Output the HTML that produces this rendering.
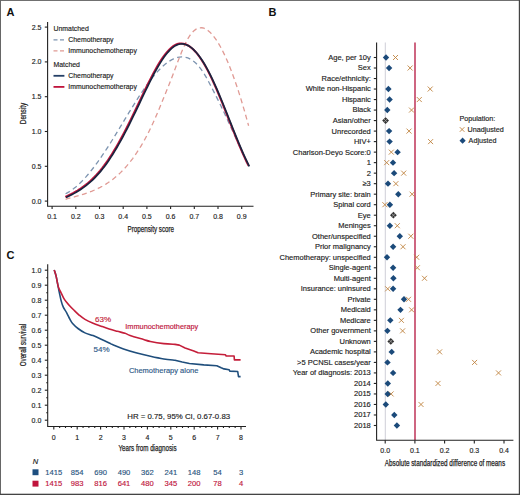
<!DOCTYPE html>
<html><head><meta charset="utf-8"><style>
html,body{margin:0;padding:0;background:#fff;}
svg{display:block;font-family:"Liberation Sans", sans-serif;}
</style></head><body>
<svg width="520" height="495" viewBox="0 0 520 495">
<rect x="0" y="0" width="520" height="495" fill="#fff"/>
<rect x="0" y="0" width="520" height="1" fill="#707070"/>
<rect x="0" y="0" width="1" height="495" fill="#666"/>
<rect x="518.8" y="0" width="1.2" height="495" fill="#444"/>
<rect x="0" y="493.7" width="520" height="1.3" fill="#444"/>
<text x="6.6" y="15.6" font-size="11" font-weight="bold" fill="#111">A</text>
<text x="268.6" y="15.7" font-size="11" font-weight="bold" fill="#111">B</text>
<text x="6.6" y="258.5" font-size="11" font-weight="bold" fill="#111">C</text>
<g stroke="#222" stroke-width="1.1" fill="none">
<path d="M47.6,22 V206.2 H253.5"/>
<path d="M44.8,201.10 H47.6"/>
<path d="M44.8,166.30 H47.6"/>
<path d="M44.8,131.50 H47.6"/>
<path d="M44.8,96.70 H47.6"/>
<path d="M44.8,61.90 H47.6"/>
<path d="M44.8,27.10 H47.6"/>
<path d="M52.10,206.2 V209"/>
<path d="M75.80,206.2 V209"/>
<path d="M99.50,206.2 V209"/>
<path d="M123.20,206.2 V209"/>
<path d="M146.90,206.2 V209"/>
<path d="M170.60,206.2 V209"/>
<path d="M194.30,206.2 V209"/>
<path d="M218.00,206.2 V209"/>
<path d="M241.70,206.2 V209"/>
</g>
<g font-size="7" fill="#222" stroke="#222" stroke-width="0.15" text-anchor="end">
<text x="41.5" y="203.60">0.0</text>
<text x="41.5" y="168.80">0.5</text>
<text x="41.5" y="134.00">1.0</text>
<text x="41.5" y="99.20">1.5</text>
<text x="41.5" y="64.40">2.0</text>
<text x="41.5" y="29.60">2.5</text>
</g>
<g font-size="7" fill="#222" stroke="#222" stroke-width="0.15" text-anchor="middle">
<text x="52.10" y="218.6">0.1</text>
<text x="75.80" y="218.6">0.2</text>
<text x="99.50" y="218.6">0.3</text>
<text x="123.20" y="218.6">0.4</text>
<text x="146.90" y="218.6">0.5</text>
<text x="170.60" y="218.6">0.6</text>
<text x="194.30" y="218.6">0.7</text>
<text x="218.00" y="218.6">0.8</text>
<text x="241.70" y="218.6">0.9</text>
</g>
<text x="150.8" y="231.7" font-size="8.8" fill="#222" stroke="#222" stroke-width="0.25" text-anchor="middle" textLength="46.6" lengthAdjust="spacingAndGlyphs">Propensity score</text>
<text transform="translate(26,113.5) rotate(-90)" font-size="8.8" fill="#222" stroke="#222" stroke-width="0.25" text-anchor="middle" textLength="21.4" lengthAdjust="spacingAndGlyphs">Density</text>
<path d="M65.60,193.71 L67.64,192.65 L69.67,191.44 L71.71,190.08 L73.75,188.58 L75.78,186.94 L77.82,185.17 L79.86,183.28 L81.89,181.26 L83.93,179.12 L85.97,176.88 L88.00,174.52 L90.04,172.07 L92.08,169.51 L94.11,166.87 L96.15,164.14 L98.19,161.32 L100.22,158.43 L102.26,155.47 L104.30,152.44 L106.33,149.35 L108.37,146.20 L110.41,143.00 L112.44,139.75 L114.48,136.47 L116.52,133.14 L118.55,129.80 L120.59,126.43 L122.63,123.06 L124.66,119.68 L126.70,116.31 L128.74,112.95 L130.77,109.62 L132.81,106.32 L134.85,103.05 L136.88,99.83 L138.92,96.66 L140.96,93.56 L142.99,90.53 L145.03,87.57 L147.07,84.70 L149.10,81.93 L151.14,79.26 L153.18,76.69 L155.21,74.25 L157.25,71.93 L159.29,69.74 L161.32,67.70 L163.36,65.81 L165.40,64.07 L167.43,62.51 L169.47,61.11 L171.51,59.90 L173.54,58.88 L175.58,58.06 L177.62,57.45 L179.65,57.07 L181.69,56.92 L183.73,57.01 L185.76,57.36 L187.80,57.97 L189.84,58.86 L191.87,60.04 L193.91,61.51 L195.95,63.29 L197.98,65.39 L200.02,67.81 L202.06,70.58 L204.09,73.69 L206.13,77.14 L208.17,80.83 L210.20,84.69 L212.24,88.64 L214.28,92.61 L216.31,96.60 L218.35,100.66 L220.39,104.80 L222.42,109.02 L224.46,113.33 L226.50,117.70 L228.53,122.12 L230.57,126.58 L232.61,131.07 L234.64,135.57 L236.68,140.07 L238.72,144.55 L240.75,149.01 L242.79,153.43 L244.83,157.79 L246.86,162.09 L248.90,166.31" fill="none" stroke="#7d94b0" stroke-width="1.3" stroke-dasharray="5,3.5"/>
<path d="M65.60,199.30 L67.63,198.73 L69.67,198.16 L71.70,197.60 L73.73,197.03 L75.77,196.46 L77.80,195.88 L79.83,195.28 L81.87,194.66 L83.90,194.01 L85.93,193.34 L87.97,192.63 L90.00,191.88 L92.03,191.09 L94.07,190.24 L96.10,189.35 L98.13,188.39 L100.17,187.37 L102.20,186.28 L104.23,185.12 L106.27,183.88 L108.30,182.56 L110.33,181.15 L112.37,179.65 L114.40,178.06 L116.43,176.36 L118.47,174.55 L120.50,172.63 L122.53,170.60 L124.57,168.45 L126.60,166.17 L128.63,163.76 L130.67,161.21 L132.70,158.53 L134.73,155.70 L136.77,152.72 L138.80,149.59 L140.83,146.30 L142.87,142.84 L144.90,139.22 L146.93,135.43 L148.97,131.45 L151.00,127.29 L153.03,122.95 L155.07,118.43 L157.10,113.75 L159.13,108.95 L161.17,104.05 L163.20,99.09 L165.23,94.09 L167.27,89.08 L169.30,84.04 L171.33,78.87 L173.37,73.53 L175.40,68.11 L177.43,62.70 L179.47,57.41 L181.50,52.32 L183.53,47.53 L185.57,43.13 L187.60,39.21 L189.63,35.87 L191.67,33.13 L193.70,30.97 L195.73,29.38 L197.77,28.33 L199.80,27.80 L201.83,27.77 L203.87,28.21 L205.90,29.11 L207.93,30.44 L209.97,32.17 L212.00,34.29 L214.03,36.78 L216.07,39.61 L218.10,42.77 L220.13,46.25 L222.17,50.04 L224.20,54.15 L226.23,58.56 L228.27,63.27 L230.30,68.27 L232.33,73.57 L234.37,79.15 L236.40,85.01 L238.43,91.14 L240.47,97.55 L242.50,104.22 L244.53,111.14 L246.57,118.32 L248.60,125.75" fill="none" stroke="#e09a94" stroke-width="1.3" stroke-dasharray="5,3.5"/>
<path d="M65.60,197.11 L67.64,196.18 L69.67,195.20 L71.71,194.17 L73.75,193.08 L75.78,191.93 L77.82,190.71 L79.86,189.41 L81.89,188.03 L83.93,186.57 L85.97,185.01 L88.00,183.35 L90.04,181.59 L92.08,179.72 L94.11,177.74 L96.15,175.63 L98.19,173.39 L100.22,171.03 L102.26,168.52 L104.30,165.87 L106.33,163.08 L108.37,160.15 L110.41,157.09 L112.44,153.90 L114.48,150.60 L116.52,147.17 L118.55,143.64 L120.59,140.00 L122.63,136.25 L124.66,132.41 L126.70,128.48 L128.74,124.46 L130.77,120.36 L132.81,116.19 L134.85,111.98 L136.88,107.73 L138.92,103.46 L140.96,99.19 L142.99,94.93 L145.03,90.70 L147.07,86.51 L149.10,82.38 L151.14,78.35 L153.18,74.42 L155.21,70.63 L157.25,67.01 L159.29,63.56 L161.32,60.32 L163.36,57.30 L165.40,54.52 L167.43,52.01 L169.47,49.79 L171.51,47.87 L173.54,46.29 L175.58,45.05 L177.62,44.19 L179.65,43.70 L181.69,43.58 L183.73,43.81 L185.76,44.39 L187.80,45.31 L189.84,46.56 L191.87,48.12 L193.91,50.00 L195.95,52.18 L197.98,54.65 L200.02,57.41 L202.06,60.43 L204.09,63.73 L206.13,67.27 L208.17,71.06 L210.20,75.09 L212.24,79.33 L214.28,83.76 L216.31,88.36 L218.35,93.11 L220.39,97.98 L222.42,102.94 L224.46,107.99 L226.50,113.08 L228.53,118.21 L230.57,123.34 L232.61,128.46 L234.64,133.54 L236.68,138.56 L238.72,143.49 L240.75,148.32 L242.79,153.02 L244.83,157.56 L246.86,161.93 L248.90,166.09" fill="none" stroke="#c0143c" stroke-width="2.0" transform="translate(-0.3,-0.2)"/>
<path d="M65.60,197.11 L67.64,196.18 L69.67,195.20 L71.71,194.17 L73.75,193.08 L75.78,191.93 L77.82,190.71 L79.86,189.41 L81.89,188.03 L83.93,186.57 L85.97,185.01 L88.00,183.35 L90.04,181.59 L92.08,179.72 L94.11,177.74 L96.15,175.63 L98.19,173.39 L100.22,171.03 L102.26,168.52 L104.30,165.87 L106.33,163.08 L108.37,160.15 L110.41,157.09 L112.44,153.90 L114.48,150.60 L116.52,147.17 L118.55,143.64 L120.59,140.00 L122.63,136.25 L124.66,132.41 L126.70,128.48 L128.74,124.46 L130.77,120.36 L132.81,116.19 L134.85,111.98 L136.88,107.73 L138.92,103.46 L140.96,99.19 L142.99,94.93 L145.03,90.70 L147.07,86.51 L149.10,82.38 L151.14,78.35 L153.18,74.42 L155.21,70.63 L157.25,67.01 L159.29,63.56 L161.32,60.32 L163.36,57.30 L165.40,54.52 L167.43,52.01 L169.47,49.79 L171.51,47.87 L173.54,46.29 L175.58,45.05 L177.62,44.19 L179.65,43.70 L181.69,43.58 L183.73,43.81 L185.76,44.39 L187.80,45.31 L189.84,46.56 L191.87,48.12 L193.91,50.00 L195.95,52.18 L197.98,54.65 L200.02,57.41 L202.06,60.43 L204.09,63.73 L206.13,67.27 L208.17,71.06 L210.20,75.09 L212.24,79.33 L214.28,83.76 L216.31,88.36 L218.35,93.11 L220.39,97.98 L222.42,102.94 L224.46,107.99 L226.50,113.08 L228.53,118.21 L230.57,123.34 L232.61,128.46 L234.64,133.54 L236.68,138.56 L238.72,143.49 L240.75,148.32 L242.79,153.02 L244.83,157.56 L246.86,161.93 L248.90,166.09" fill="none" stroke="#1a2540" stroke-width="1.7" transform="translate(0.4,0.3)"/>
<g font-size="6.9" fill="#222" stroke="#222" stroke-width="0.15">
<text x="53.5" y="31.2">Unmatched</text>
<text x="68.3" y="42.3">Chemotherapy</text>
<text x="68.3" y="53.3">Immunochemotherapy</text>
<text x="53.5" y="67.3">Matched</text>
<text x="68.3" y="78.3">Chemotherapy</text>
<text x="68.3" y="89.4">Immunochemotherapy</text>
</g>
<path d="M53.5,39.8 H64.4" stroke="#7d94b0" stroke-width="1.3" stroke-dasharray="4,2.5"/>
<path d="M53.5,50.8 H64.4" stroke="#e09a94" stroke-width="1.3" stroke-dasharray="4,2.5"/>
<path d="M53.5,75.8 H64.4" stroke="#243f66" stroke-width="1.8"/>
<path d="M53.5,86.9 H64.4" stroke="#c0143c" stroke-width="1.8"/>
<path d="M385.3,42.5 V440" stroke="#c9c9d2" stroke-width="0.9"/>
<path d="M415,42.5 V440" stroke="#c64b6b" stroke-width="1.7"/>
<g stroke="#222" stroke-width="1.1" fill="none">
<path d="M376.6,42.5 V440.2 H513.4"/>
<path d="M373.8,57.50 H376.6"/>
<path d="M373.8,68.01 H376.6"/>
<path d="M373.8,78.53 H376.6"/>
<path d="M373.8,89.04 H376.6"/>
<path d="M373.8,99.56 H376.6"/>
<path d="M373.8,110.07 H376.6"/>
<path d="M373.8,120.58 H376.6"/>
<path d="M373.8,131.10 H376.6"/>
<path d="M373.8,141.61 H376.6"/>
<path d="M373.8,152.13 H376.6"/>
<path d="M373.8,162.64 H376.6"/>
<path d="M373.8,173.15 H376.6"/>
<path d="M373.8,183.67 H376.6"/>
<path d="M373.8,194.18 H376.6"/>
<path d="M373.8,204.70 H376.6"/>
<path d="M373.8,215.21 H376.6"/>
<path d="M373.8,225.72 H376.6"/>
<path d="M373.8,236.24 H376.6"/>
<path d="M373.8,246.75 H376.6"/>
<path d="M373.8,257.27 H376.6"/>
<path d="M373.8,267.78 H376.6"/>
<path d="M373.8,278.29 H376.6"/>
<path d="M373.8,288.81 H376.6"/>
<path d="M373.8,299.32 H376.6"/>
<path d="M373.8,309.84 H376.6"/>
<path d="M373.8,320.35 H376.6"/>
<path d="M373.8,330.86 H376.6"/>
<path d="M373.8,341.38 H376.6"/>
<path d="M373.8,351.89 H376.6"/>
<path d="M373.8,362.41 H376.6"/>
<path d="M373.8,372.92 H376.6"/>
<path d="M373.8,383.43 H376.6"/>
<path d="M373.8,393.95 H376.6"/>
<path d="M373.8,404.46 H376.6"/>
<path d="M373.8,414.98 H376.6"/>
<path d="M373.8,425.49 H376.6"/>
<path d="M385.20,440.2 V443.4"/>
<path d="M414.90,440.2 V443.4"/>
<path d="M444.60,440.2 V443.4"/>
<path d="M474.30,440.2 V443.4"/>
<path d="M504.00,440.2 V443.4"/>
</g>
<g font-size="7.5" fill="#222" stroke="#222" stroke-width="0.15" text-anchor="end">
<text x="370.8" y="59.90">Age, per 10y</text>
<text x="370.8" y="70.41">Sex</text>
<text x="370.8" y="80.93">Race/ethnicity:</text>
<text x="370.8" y="91.44">White non-Hispanic</text>
<text x="370.8" y="101.96">Hispanic</text>
<text x="370.8" y="112.47">Black</text>
<text x="370.8" y="122.98">Asian/other</text>
<text x="370.8" y="133.50">Unrecorded</text>
<text x="370.8" y="144.01">HIV+</text>
<text x="370.8" y="154.53">Charlson-Deyo Score:0</text>
<text x="370.8" y="165.04">1</text>
<text x="370.8" y="175.55">2</text>
<text x="370.8" y="186.07">≥3</text>
<text x="370.8" y="196.58">Primary site: brain</text>
<text x="370.8" y="207.10">Spinal cord</text>
<text x="370.8" y="217.61">Eye</text>
<text x="370.8" y="228.12">Meninges</text>
<text x="370.8" y="238.64">Other/unspecified</text>
<text x="370.8" y="249.15">Prior malignancy</text>
<text x="370.8" y="259.67">Chemotherapy: unspecified</text>
<text x="370.8" y="270.18">Single-agent</text>
<text x="370.8" y="280.69">Multi-agent</text>
<text x="370.8" y="291.21">Insurance: uninsured</text>
<text x="370.8" y="301.72">Private</text>
<text x="370.8" y="312.24">Medicaid</text>
<text x="370.8" y="322.75">Medicare</text>
<text x="370.8" y="333.26">Other government</text>
<text x="370.8" y="343.78">Unknown</text>
<text x="370.8" y="354.29">Academic hospital</text>
<text x="370.8" y="364.81">&gt;5 PCNSL cases/year</text>
<text x="370.8" y="375.32">Year of diagnosis: 2013</text>
<text x="370.8" y="385.83">2014</text>
<text x="370.8" y="396.35">2015</text>
<text x="370.8" y="406.86">2016</text>
<text x="370.8" y="417.38">2017</text>
<text x="370.8" y="427.89">2018</text>
</g>
<g font-size="7" fill="#222" stroke="#222" stroke-width="0.15" text-anchor="middle">
<text x="385.20" y="453.3">0.0</text>
<text x="414.90" y="453.3">0.1</text>
<text x="444.60" y="453.3">0.2</text>
<text x="474.30" y="453.3">0.3</text>
<text x="504.00" y="453.3">0.4</text>
</g>
<text x="444.9" y="465.8" font-size="8.8" fill="#222" stroke="#222" stroke-width="0.25" text-anchor="middle" textLength="120.4" lengthAdjust="spacingAndGlyphs">Absolute standardized difference of means</text>
<path d="M393.00,55.00 L398.00,60.00 M393.00,60.00 L398.00,55.00" stroke="#bf8340" stroke-width="0.9" fill="none"/>
<path d="M386.00,54.30 L389.20,57.50 L386.00,60.70 L382.80,57.50 Z" fill="#1b4a7a"/>
<path d="M407.60,65.51 L412.60,70.51 M407.60,70.51 L412.60,65.51" stroke="#bf8340" stroke-width="0.9" fill="none"/>
<path d="M389.10,64.81 L392.30,68.01 L389.10,71.21 L385.90,68.01 Z" fill="#1b4a7a"/>
<path d="M427.70,86.54 L432.70,91.54 M427.70,91.54 L432.70,86.54" stroke="#bf8340" stroke-width="0.9" fill="none"/>
<path d="M388.40,85.84 L391.60,89.04 L388.40,92.24 L385.20,89.04 Z" fill="#1b4a7a"/>
<path d="M416.80,97.06 L421.80,102.06 M416.80,102.06 L421.80,97.06" stroke="#bf8340" stroke-width="0.9" fill="none"/>
<path d="M389.60,96.36 L392.80,99.56 L389.60,102.76 L386.40,99.56 Z" fill="#1b4a7a"/>
<path d="M409.00,107.57 L414.00,112.57 M409.00,112.57 L414.00,107.57" stroke="#bf8340" stroke-width="0.9" fill="none"/>
<path d="M387.30,106.87 L390.50,110.07 L387.30,113.27 L384.10,110.07 Z" fill="#1b4a7a"/>
<path d="M385.60,117.18 L389.00,120.58 L385.60,123.98 L382.20,120.58 Z" fill="#333"/>
<path d="M384.00,118.98 L387.20,122.18 M384.00,122.18 L387.20,118.98" stroke="#9a9a9a" stroke-width="0.9" fill="none"/>
<path d="M406.50,128.60 L411.50,133.60 M406.50,133.60 L411.50,128.60" stroke="#bf8340" stroke-width="0.9" fill="none"/>
<path d="M389.10,127.90 L392.30,131.10 L389.10,134.30 L385.90,131.10 Z" fill="#1b4a7a"/>
<path d="M428.10,139.11 L433.10,144.11 M428.10,144.11 L433.10,139.11" stroke="#bf8340" stroke-width="0.9" fill="none"/>
<path d="M389.60,138.41 L392.80,141.61 L389.60,144.81 L386.40,141.61 Z" fill="#1b4a7a"/>
<path d="M388.80,149.63 L393.80,154.63 M388.80,154.63 L393.80,149.63" stroke="#bf8340" stroke-width="0.9" fill="none"/>
<path d="M397.60,148.93 L400.80,152.13 L397.60,155.33 L394.40,152.13 Z" fill="#1b4a7a"/>
<path d="M384.20,160.14 L389.20,165.14 M384.20,165.14 L389.20,160.14" stroke="#bf8340" stroke-width="0.9" fill="none"/>
<path d="M393.00,159.44 L396.20,162.64 L393.00,165.84 L389.80,162.64 Z" fill="#1b4a7a"/>
<path d="M401.20,170.65 L406.20,175.65 M401.20,175.65 L406.20,170.65" stroke="#bf8340" stroke-width="0.9" fill="none"/>
<path d="M394.10,169.95 L397.30,173.15 L394.10,176.35 L390.90,173.15 Z" fill="#1b4a7a"/>
<path d="M393.40,181.17 L398.40,186.17 M393.40,186.17 L398.40,181.17" stroke="#bf8340" stroke-width="0.9" fill="none"/>
<path d="M388.00,180.47 L391.20,183.67 L388.00,186.87 L384.80,183.67 Z" fill="#1b4a7a"/>
<path d="M409.60,191.68 L414.60,196.68 M409.60,196.68 L414.60,191.68" stroke="#bf8340" stroke-width="0.9" fill="none"/>
<path d="M398.30,190.98 L401.50,194.18 L398.30,197.38 L395.10,194.18 Z" fill="#1b4a7a"/>
<path d="M382.40,202.20 L387.40,207.20 M382.40,207.20 L387.40,202.20" stroke="#bf8340" stroke-width="0.9" fill="none"/>
<path d="M389.90,201.50 L393.10,204.70 L389.90,207.90 L386.70,204.70 Z" fill="#1b4a7a"/>
<path d="M393.40,211.81 L396.80,215.21 L393.40,218.61 L390.00,215.21 Z" fill="#333"/>
<path d="M391.80,213.61 L395.00,216.81 M391.80,216.81 L395.00,213.61" stroke="#9a9a9a" stroke-width="0.9" fill="none"/>
<path d="M394.80,223.22 L399.80,228.22 M394.80,228.22 L399.80,223.22" stroke="#bf8340" stroke-width="0.9" fill="none"/>
<path d="M389.90,222.52 L393.10,225.72 L389.90,228.92 L386.70,225.72 Z" fill="#1b4a7a"/>
<path d="M408.30,233.74 L413.30,238.74 M408.30,238.74 L413.30,233.74" stroke="#bf8340" stroke-width="0.9" fill="none"/>
<path d="M399.80,233.04 L403.00,236.24 L399.80,239.44 L396.60,236.24 Z" fill="#1b4a7a"/>
<path d="M400.50,244.25 L405.50,249.25 M400.50,249.25 L405.50,244.25" stroke="#bf8340" stroke-width="0.9" fill="none"/>
<path d="M393.10,243.55 L396.30,246.75 L393.10,249.95 L389.90,246.75 Z" fill="#1b4a7a"/>
<path d="M414.20,254.77 L419.20,259.77 M414.20,259.77 L419.20,254.77" stroke="#bf8340" stroke-width="0.9" fill="none"/>
<path d="M387.00,254.07 L390.20,257.27 L387.00,260.47 L383.80,257.27 Z" fill="#1b4a7a"/>
<path d="M414.90,265.28 L419.90,270.28 M414.90,270.28 L419.90,265.28" stroke="#bf8340" stroke-width="0.9" fill="none"/>
<path d="M393.10,264.58 L396.30,267.78 L393.10,270.98 L389.90,267.78 Z" fill="#1b4a7a"/>
<path d="M422.00,275.79 L427.00,280.79 M422.00,280.79 L427.00,275.79" stroke="#bf8340" stroke-width="0.9" fill="none"/>
<path d="M393.40,275.09 L396.60,278.29 L393.40,281.49 L390.20,278.29 Z" fill="#1b4a7a"/>
<path d="M385.20,286.31 L390.20,291.31 M385.20,291.31 L390.20,286.31" stroke="#bf8340" stroke-width="0.9" fill="none"/>
<path d="M393.10,285.61 L396.30,288.81 L393.10,292.01 L389.90,288.81 Z" fill="#1b4a7a"/>
<path d="M406.00,296.82 L411.00,301.82 M406.00,301.82 L411.00,296.82" stroke="#bf8340" stroke-width="0.9" fill="none"/>
<path d="M404.00,296.12 L407.20,299.32 L404.00,302.52 L400.80,299.32 Z" fill="#1b4a7a"/>
<path d="M409.10,307.34 L414.10,312.34 M409.10,312.34 L414.10,307.34" stroke="#bf8340" stroke-width="0.9" fill="none"/>
<path d="M400.50,306.64 L403.70,309.84 L400.50,313.04 L397.30,309.84 Z" fill="#1b4a7a"/>
<path d="M398.90,317.85 L403.90,322.85 M398.90,322.85 L403.90,317.85" stroke="#bf8340" stroke-width="0.9" fill="none"/>
<path d="M390.30,317.15 L393.50,320.35 L390.30,323.55 L387.10,320.35 Z" fill="#1b4a7a"/>
<path d="M400.10,328.36 L405.10,333.36 M400.10,333.36 L405.10,328.36" stroke="#bf8340" stroke-width="0.9" fill="none"/>
<path d="M387.40,327.66 L390.60,330.86 L387.40,334.06 L384.20,330.86 Z" fill="#1b4a7a"/>
<path d="M390.80,337.98 L394.20,341.38 L390.80,344.78 L387.40,341.38 Z" fill="#333"/>
<path d="M389.20,339.78 L392.40,342.98 M389.20,342.98 L392.40,339.78" stroke="#9a9a9a" stroke-width="0.9" fill="none"/>
<path d="M437.10,349.39 L442.10,354.39 M437.10,354.39 L442.10,349.39" stroke="#bf8340" stroke-width="0.9" fill="none"/>
<path d="M391.70,348.69 L394.90,351.89 L391.70,355.09 L388.50,351.89 Z" fill="#1b4a7a"/>
<path d="M472.10,359.91 L477.10,364.91 M472.10,364.91 L477.10,359.91" stroke="#bf8340" stroke-width="0.9" fill="none"/>
<path d="M387.50,359.21 L390.70,362.41 L387.50,365.61 L384.30,362.41 Z" fill="#1b4a7a"/>
<path d="M496.00,370.42 L501.00,375.42 M496.00,375.42 L501.00,370.42" stroke="#bf8340" stroke-width="0.9" fill="none"/>
<path d="M393.10,369.72 L396.30,372.92 L393.10,376.12 L389.90,372.92 Z" fill="#1b4a7a"/>
<path d="M435.50,380.93 L440.50,385.93 M435.50,385.93 L440.50,380.93" stroke="#bf8340" stroke-width="0.9" fill="none"/>
<path d="M387.80,380.23 L391.00,383.43 L387.80,386.63 L384.60,383.43 Z" fill="#1b4a7a"/>
<path d="M388.60,391.45 L393.60,396.45 M388.60,396.45 L393.60,391.45" stroke="#bf8340" stroke-width="0.9" fill="none"/>
<path d="M387.70,390.75 L390.90,393.95 L387.70,397.15 L384.50,393.95 Z" fill="#1b4a7a"/>
<path d="M418.50,401.96 L423.50,406.96 M418.50,406.96 L423.50,401.96" stroke="#bf8340" stroke-width="0.9" fill="none"/>
<path d="M385.80,401.26 L389.00,404.46 L385.80,407.66 L382.60,404.46 Z" fill="#1b4a7a"/>
<path d="M394.30,411.78 L397.50,414.98 L394.30,418.18 L391.10,414.98 Z" fill="#1b4a7a"/>
<path d="M396.90,422.29 L400.10,425.49 L396.90,428.69 L393.70,425.49 Z" fill="#1b4a7a"/>
<text x="459.4" y="121.4" font-size="7.2" fill="#222" stroke="#222" stroke-width="0.15">Population:</text>
<path d="M459.80,127.20 L464.40,131.80 M459.80,131.80 L464.40,127.20" stroke="#bf8340" stroke-width="0.9" fill="none"/>
<text x="467.5" y="131.9" font-size="7.2" fill="#222" stroke="#222" stroke-width="0.15">Unadjusted</text>
<path d="M462.60,137.60 L465.70,140.70 L462.60,143.80 L459.50,140.70 Z" fill="#1b4a7a"/>
<text x="468.6" y="143.2" font-size="7.2" fill="#222" stroke="#222" stroke-width="0.15">Adjusted</text>
<g stroke="#222" stroke-width="1.1" fill="none">
<path d="M47.7,264.2 V426.5 H246"/>
<path d="M44.8,420.20 H47.7"/>
<path d="M44.8,405.20 H47.7"/>
<path d="M44.8,390.20 H47.7"/>
<path d="M44.8,375.20 H47.7"/>
<path d="M44.8,360.20 H47.7"/>
<path d="M44.8,345.20 H47.7"/>
<path d="M44.8,330.20 H47.7"/>
<path d="M44.8,315.20 H47.7"/>
<path d="M44.8,300.20 H47.7"/>
<path d="M44.8,285.20 H47.7"/>
<path d="M44.8,270.20 H47.7"/>
<path d="M46.2,412.70 H47.7"/>
<path d="M46.2,397.70 H47.7"/>
<path d="M46.2,382.70 H47.7"/>
<path d="M46.2,367.70 H47.7"/>
<path d="M46.2,352.70 H47.7"/>
<path d="M46.2,337.70 H47.7"/>
<path d="M46.2,322.70 H47.7"/>
<path d="M46.2,307.70 H47.7"/>
<path d="M46.2,292.70 H47.7"/>
<path d="M46.2,277.70 H47.7"/>
<path d="M53.80,426.5 V429.4"/>
<path d="M77.20,426.5 V429.4"/>
<path d="M100.60,426.5 V429.4"/>
<path d="M124.00,426.5 V429.4"/>
<path d="M147.40,426.5 V429.4"/>
<path d="M170.80,426.5 V429.4"/>
<path d="M194.20,426.5 V429.4"/>
<path d="M217.60,426.5 V429.4"/>
<path d="M241.00,426.5 V429.4"/>
<path d="M59.65,426.5 V428"/>
<path d="M65.50,426.5 V428"/>
<path d="M71.35,426.5 V428"/>
<path d="M83.05,426.5 V428"/>
<path d="M88.90,426.5 V428"/>
<path d="M94.75,426.5 V428"/>
<path d="M106.45,426.5 V428"/>
<path d="M112.30,426.5 V428"/>
<path d="M118.15,426.5 V428"/>
<path d="M129.85,426.5 V428"/>
<path d="M135.70,426.5 V428"/>
<path d="M141.55,426.5 V428"/>
<path d="M153.25,426.5 V428"/>
<path d="M159.10,426.5 V428"/>
<path d="M164.95,426.5 V428"/>
<path d="M176.65,426.5 V428"/>
<path d="M182.50,426.5 V428"/>
<path d="M188.35,426.5 V428"/>
<path d="M200.05,426.5 V428"/>
<path d="M205.90,426.5 V428"/>
<path d="M211.75,426.5 V428"/>
<path d="M223.45,426.5 V428"/>
<path d="M229.30,426.5 V428"/>
<path d="M235.15,426.5 V428"/>
</g>
<g font-size="7" fill="#222" stroke="#222" stroke-width="0.15" text-anchor="end">
<text x="41.3" y="422.70">0.0</text>
<text x="41.3" y="407.70">0.1</text>
<text x="41.3" y="392.70">0.2</text>
<text x="41.3" y="377.70">0.3</text>
<text x="41.3" y="362.70">0.4</text>
<text x="41.3" y="347.70">0.5</text>
<text x="41.3" y="332.70">0.6</text>
<text x="41.3" y="317.70">0.7</text>
<text x="41.3" y="302.70">0.8</text>
<text x="41.3" y="287.70">0.9</text>
<text x="41.3" y="272.70">1.0</text>
</g>
<g font-size="7" fill="#222" stroke="#222" stroke-width="0.15" text-anchor="middle">
<text x="53.80" y="439.5">0</text>
<text x="77.20" y="439.5">1</text>
<text x="100.60" y="439.5">2</text>
<text x="124.00" y="439.5">3</text>
<text x="147.40" y="439.5">4</text>
<text x="170.80" y="439.5">5</text>
<text x="194.20" y="439.5">6</text>
<text x="217.60" y="439.5">7</text>
<text x="241.00" y="439.5">8</text>
</g>
<text x="147.5" y="451" font-size="8.8" fill="#222" stroke="#222" stroke-width="0.25" text-anchor="middle" textLength="58" lengthAdjust="spacingAndGlyphs">Years from diagnosis</text>
<text transform="translate(25.8,345.1) rotate(-90)" font-size="8.8" fill="#222" stroke="#222" stroke-width="0.25" text-anchor="middle" textLength="42.3" lengthAdjust="spacingAndGlyphs">Overall survival</text>
<path d="M54.20,270.00 C54.52,271.02 55.60,274.15 56.10,276.10 C56.60,278.05 56.82,279.75 57.20,281.70 C57.58,283.65 58.03,285.95 58.40,287.80 C58.77,289.65 58.95,290.67 59.40,292.80 C59.85,294.93 60.45,298.20 61.10,300.60 C61.75,303.00 62.37,305.17 63.30,307.20 C64.23,309.23 65.58,310.77 66.70,312.80 C67.82,314.83 69.02,317.62 70.00,319.40 C70.98,321.18 71.27,321.98 72.60,323.50 C73.93,325.02 75.93,326.93 78.00,328.50 C80.07,330.07 82.48,331.72 85.00,332.90 C87.52,334.08 90.40,334.53 93.10,335.60 C95.80,336.67 98.52,338.07 101.20,339.30 C103.88,340.53 107.32,342.12 109.20,343.00 C111.08,343.88 110.12,343.62 112.50,344.60 C114.88,345.58 119.43,347.50 123.50,348.90 C127.57,350.30 132.42,351.77 136.90,353.00 C141.38,354.23 145.92,355.30 150.40,356.30 C154.88,357.30 159.70,358.33 163.80,359.00 C167.90,359.67 173.13,360.08 175.00,360.30 L182.20,362.00 L189.40,363.50 L203.80,364.90 L216.80,365.80 L221.20,367.80 L224.00,368.90 L229.10,369.70 L229.80,371.10 L237.70,371.50 L238.50,376.60 L240.60,376.60" fill="none" stroke="#1f4e7c" stroke-width="1.6" stroke-linejoin="round"/>
<path d="M54.20,270.00 C54.52,271.02 55.60,274.15 56.10,276.10 C56.60,278.05 56.78,279.75 57.20,281.70 C57.62,283.65 57.95,285.95 58.60,287.80 C59.25,289.65 60.13,290.87 61.10,292.80 C62.07,294.73 63.10,297.37 64.40,299.40 C65.70,301.43 67.23,303.13 68.90,305.00 C70.57,306.87 72.65,308.88 74.40,310.60 C76.15,312.32 77.63,313.83 79.40,315.30 C81.17,316.77 82.72,318.08 85.00,319.40 C87.28,320.72 90.40,322.07 93.10,323.20 C95.80,324.33 98.52,325.23 101.20,326.20 C103.88,327.17 106.52,328.15 109.20,329.00 C111.88,329.85 114.67,330.58 117.30,331.30 C119.93,332.02 122.87,332.62 125.00,333.30 C127.13,333.98 127.00,334.37 130.10,335.40 C133.20,336.43 140.22,338.48 143.60,339.50 C146.98,340.52 147.03,340.82 150.40,341.50 C153.77,342.18 159.70,343.12 163.80,343.60 C167.90,344.08 173.13,344.27 175.00,344.40 L179.30,345.10 L185.10,348.00 L193.80,350.90 L198.10,352.80 L211.10,353.80 L225.50,354.80 L226.20,356.00 L234.10,356.00 L234.40,359.90 L240.60,359.90" fill="none" stroke="#c41e3a" stroke-width="1.6" stroke-linejoin="round"/>
<text x="95.1" y="322" font-size="7.6" fill="#c41e3a" stroke="#c41e3a" stroke-width="0.15" textLength="16" lengthAdjust="spacingAndGlyphs">63%</text>
<text x="93.5" y="351.6" font-size="7.6" fill="#2f5a88" stroke="#2f5a88" stroke-width="0.15" textLength="16" lengthAdjust="spacingAndGlyphs">54%</text>
<text x="125.3" y="328.9" font-size="7.5" fill="#c0143c" stroke="#c0143c" stroke-width="0.15" textLength="73" lengthAdjust="spacingAndGlyphs">Immunochemotherapy</text>
<text x="128.9" y="373.1" font-size="7.5" fill="#2f5a88" stroke="#2f5a88" stroke-width="0.15" textLength="69.5" lengthAdjust="spacingAndGlyphs">Chemotherapy alone</text>
<text x="127.3" y="418.7" font-size="7.8" fill="#222" stroke="#222" stroke-width="0.15" textLength="102.8" lengthAdjust="spacingAndGlyphs">HR = 0.75, 95% CI, 0.67-0.83</text>
<text x="32.7" y="463.5" font-size="7.5" font-style="italic" fill="#222" stroke="#222" stroke-width="0.15">N</text>
<rect x="32.5" y="469.3" width="6" height="5.9" fill="#1d4f80"/>
<rect x="32.5" y="480.7" width="6" height="5.9" fill="#c0143c"/>
<g font-size="7.6" text-anchor="middle">
<text x="53.80" y="475.1" fill="#2a5580" stroke="#2a5580" stroke-width="0.15">1415</text>
<text x="53.80" y="486.4" fill="#c0143c" stroke="#c0143c" stroke-width="0.15">1415</text>
<text x="77.20" y="475.1" fill="#2a5580" stroke="#2a5580" stroke-width="0.15">854</text>
<text x="77.20" y="486.4" fill="#c0143c" stroke="#c0143c" stroke-width="0.15">983</text>
<text x="100.60" y="475.1" fill="#2a5580" stroke="#2a5580" stroke-width="0.15">690</text>
<text x="100.60" y="486.4" fill="#c0143c" stroke="#c0143c" stroke-width="0.15">816</text>
<text x="124.00" y="475.1" fill="#2a5580" stroke="#2a5580" stroke-width="0.15">490</text>
<text x="124.00" y="486.4" fill="#c0143c" stroke="#c0143c" stroke-width="0.15">641</text>
<text x="147.40" y="475.1" fill="#2a5580" stroke="#2a5580" stroke-width="0.15">362</text>
<text x="147.40" y="486.4" fill="#c0143c" stroke="#c0143c" stroke-width="0.15">480</text>
<text x="170.80" y="475.1" fill="#2a5580" stroke="#2a5580" stroke-width="0.15">241</text>
<text x="170.80" y="486.4" fill="#c0143c" stroke="#c0143c" stroke-width="0.15">345</text>
<text x="194.20" y="475.1" fill="#2a5580" stroke="#2a5580" stroke-width="0.15">148</text>
<text x="194.20" y="486.4" fill="#c0143c" stroke="#c0143c" stroke-width="0.15">200</text>
<text x="217.60" y="475.1" fill="#2a5580" stroke="#2a5580" stroke-width="0.15">54</text>
<text x="217.60" y="486.4" fill="#c0143c" stroke="#c0143c" stroke-width="0.15">78</text>
<text x="241.00" y="475.1" fill="#2a5580" stroke="#2a5580" stroke-width="0.15">3</text>
<text x="241.00" y="486.4" fill="#c0143c" stroke="#c0143c" stroke-width="0.15">4</text>
</g>
</svg>
</body></html>
